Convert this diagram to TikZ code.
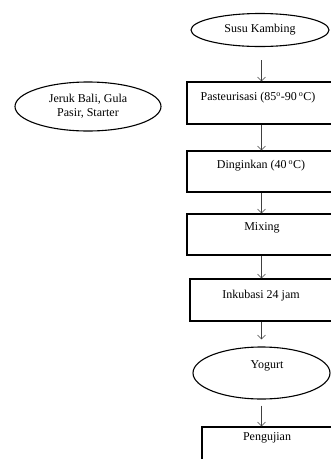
\documentclass[tikz,border=0pt]{standalone}
\usepackage{fontspec}
\setmainfont{Liberation Serif}
\usetikzlibrary{arrows.meta,shapes.geometric}
\begin{document}
\begin{tikzpicture}[x=1pt,y=-1pt,
  box/.style={draw, line width=1.1pt, rectangle, inner sep=0pt},
  oval/.style={draw, line width=1.1pt, ellipse, inner sep=0pt, align=center, font=\fontsize{12}{13.5}\selectfont},
  lbl/.style={font=\fontsize{12}{14}\selectfont, inner sep=0pt},
  arr/.style={draw=black!75, line width=0.5pt, -{Straight Barb[length=4pt,width=8pt]}}]
\useasboundingbox (0,0) rectangle (331,459);
\clip (0,0) rectangle (331,459);
\coordinate (axis) at (261.5,0);
\node[oval, minimum width=138, minimum height=33] (susu) at (260,30) {Susu Kambing};
\node[oval, minimum width=146, minimum height=49] (jeruk) at (88,106.5) {Jeruk Bali, Gula\\Pasir, Starter};
\node[box, minimum width=150, minimum height=42] (past) at (262,103) {};
\node[lbl] (pastT) at (258,98) {Pasteurisasi (85\textsuperscript{o}-90\,\textsuperscript{o}C)};
\node[box, minimum width=150, minimum height=41] (ding) at (262,171.5) {};
\node[lbl] (dingT) at (261,166) {Dinginkan (40\,\textsuperscript{o}C)};
\node[box, minimum width=150, minimum height=41] (mix) at (262,234.5) {};
\node[lbl] (mixT) at (262,228) {Mixing};
\node[box, minimum width=148, minimum height=42] (inku) at (264,300) {};
\node[lbl] (inkuT) at (261,296) {Inkubasi 24 jam};
\node[oval, minimum width=137, minimum height=52] (yog) at (261.5,373) {};
\node[lbl] (yogT) at (267,366) {Yogurt};
\node[box, minimum width=136, minimum height=53] (peng) at (270,453.5) {};
\node[lbl] (pengT) at (267,438) {Pengujian};
\draw[arr, shorten <=13pt] (susu.south -| axis) -- (past.north -| axis);
\draw[arr] (past.south -| axis) -- (ding.north -| axis);
\draw[arr] (ding.south -| axis) -- (mix.north -| axis);
\draw[arr] (mix.south -| axis) -- (inku.north -| axis);
\draw[arr, shorten >=7pt] (inku.south -| axis) -- (yog.north -| axis);
\draw[arr, shorten <=6pt] (yog.south -| axis) -- (peng.north -| axis);
\end{tikzpicture}
\end{document}
